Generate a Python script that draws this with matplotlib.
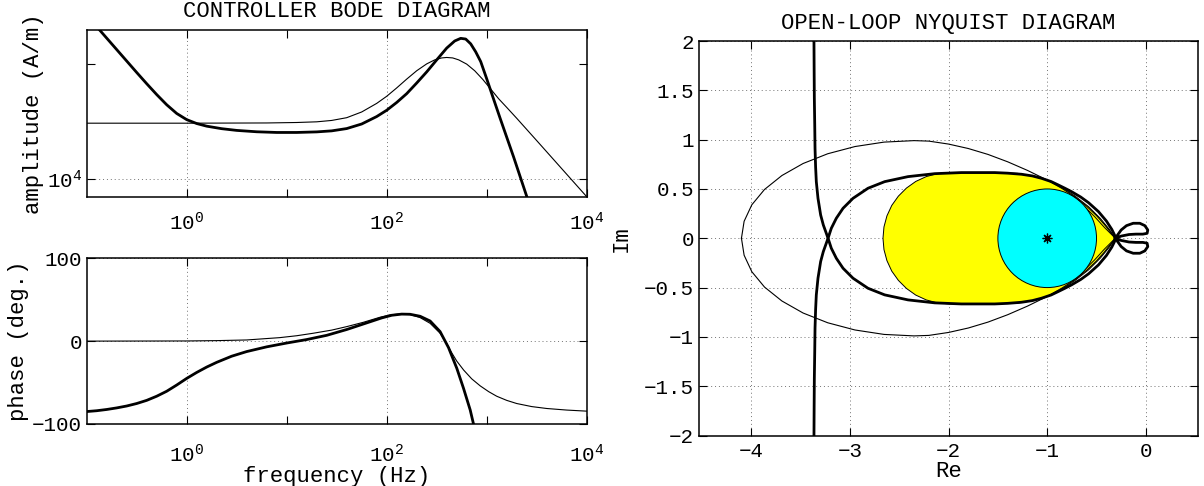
import numpy as np
import matplotlib
matplotlib.use("Agg")
import matplotlib.pyplot as plt
from matplotlib.ticker import FixedLocator, FixedFormatter, NullFormatter
from matplotlib.patches import Polygon, Circle

plt.rcParams['font.family'] = ['Liberation Mono', 'DejaVu Sans Mono']
plt.rcParams['mathtext.fontset'] = 'custom'
plt.rcParams['mathtext.rm'] = 'Liberation Mono'
plt.rcParams['mathtext.it'] = 'Liberation Mono'
plt.rcParams['mathtext.bf'] = 'Liberation Mono'

# ---------------- Bode data (frequency and amplitude in decades) ----------------
thin_amp_fexp = [-1.0, 0.0, 0.8, 1.1, 1.3, 1.45, 1.6, 1.75, 1.9, 2.0, 2.1, 2.2, 2.3,
                 2.4, 2.48, 2.55, 2.6, 2.66, 2.72, 2.8, 2.88, 2.96, 3.04, 3.12, 3.2,
                 3.3, 3.5, 3.75, 4.0]
thin_amp_exp = [4.487, 4.487, 4.489, 4.493, 4.499, 4.511, 4.535, 4.585, 4.660, 4.722,
                4.795, 4.872, 4.945, 5.005, 5.040, 5.057, 5.061, 5.057, 5.040, 5.003,
                4.945, 4.870, 4.785, 4.700, 4.625, 4.530, 4.335, 4.090, 3.845]

thick_amp_fexp = [-1.0, -0.9, -0.8, -0.7, -0.6, -0.5, -0.4, -0.3, -0.2, -0.1, 0.0,
                  0.1, 0.2, 0.35, 0.5, 0.7, 0.9, 1.1, 1.3, 1.45, 1.6, 1.75, 1.9,
                  2.0, 2.1, 2.2, 2.3, 2.4, 2.5, 2.6, 2.68, 2.74, 2.79, 2.84, 2.89,
                  2.94, 3.0, 3.06, 3.135, 3.269, 3.402, 3.47]
thick_amp_exp = [5.43, 5.33, 5.23, 5.13, 5.03, 4.93, 4.832, 4.737, 4.648, 4.572, 4.518,
                 4.484, 4.461, 4.439, 4.424, 4.412, 4.406, 4.406, 4.411, 4.420, 4.440,
                 4.480, 4.545, 4.600, 4.668, 4.745, 4.838, 4.935, 5.040, 5.143, 5.205,
                 5.228, 5.222, 5.180, 5.110, 5.025, 4.875, 4.720, 4.528, 4.192, 3.843,
                 3.670]

# phase in degrees
thin_ph_fexp = [-1.0, 0.0, 0.3, 0.6, 0.93, 1.1, 1.265, 1.45, 1.6, 1.766, 1.933, 2.033,
                2.134, 2.234, 2.334, 2.434, 2.534, 2.60, 2.65, 2.70, 2.77, 2.85, 2.935,
                3.02, 3.10, 3.2, 3.3, 3.45, 3.6, 3.8, 4.0]
thin_ph = [0.0, 0.2, 0.6, 1.4, 4.2, 6.5, 9.5, 13.3, 17.5, 22.7, 28.8, 31.6,
           32.8, 32.0, 28.4, 21.5, 9.5, -3.0, -14.0, -24.0, -35.0, -45.5, -54.0,
           -61.0, -66.5, -71.5, -75.3, -79.0, -81.3, -83.2, -84.5]

thick_ph_fexp = [-1.0, -0.9, -0.8, -0.7, -0.6, -0.5, -0.4, -0.3, -0.2, -0.1, 0.0,
                 0.1, 0.2, 0.3, 0.45, 0.6, 0.8, 1.0, 1.2, 1.4, 1.6, 1.8, 1.95, 2.05,
                 2.15, 2.234, 2.334, 2.434, 2.534, 2.618, 2.701, 2.768, 2.835, 2.868,
                 2.9]
thick_ph = [-85.0, -84.0, -82.5, -80.6, -78.3, -75.3, -71.5, -66.5, -60.5, -53.0,
            -45.0, -37.8, -31.3, -25.6, -18.2, -12.6, -6.9, -2.3, 1.9, 7.0, 14.0,
            22.0, 28.0, 31.2, 32.6, 32.4, 30.0, 24.3, 11.5, -7.8, -32.8, -56.9,
            -83.1, -100.0, -118.0]

# ---------------- Nyquist data (upper halves; lower halves are conjugates) ----------------
thin_re = [-4.100, -4.073, -3.995, -3.866, -3.690, -3.475, -3.225, -2.949, -2.654,
           -2.350, -2.200, -2.000, -1.800, -1.600, -1.400, -1.200, -1.000, -0.850,
           -0.720, -0.600, -0.500, -0.420, -0.365, -0.310]
thin_im = [0.000, 0.172, 0.339, 0.495, 0.636, 0.758, 0.857, 0.930, 0.975,
           0.990, 0.985, 0.955, 0.910, 0.850, 0.775, 0.688, 0.590, 0.505,
           0.420, 0.325, 0.230, 0.140, 0.070, 0.000]

thick_re = [-3.365, -3.363, -3.361, -3.357, -3.354, -3.348, -3.341, -3.324, -3.297,
            -3.270, -3.246, -3.222, -3.189, -3.138, -3.070, -2.969, -2.817, -2.648,
            -2.411, -2.140, -1.870, -1.532, -1.400, -1.261, -1.150, -1.058, -0.960,
            -0.889, -0.820, -0.754, -0.660, -0.580, -0.480, -0.400, -0.345, -0.318,
            -0.310,
            -0.250, -0.196, -0.128, -0.061, -0.010, 0.020, 0.013, -0.030, -0.100,
            -0.170, -0.250, -0.310]
thick_im = [-2.05, -1.70, -1.42, -1.15, -0.91, -0.72, -0.574, -0.405, -0.236,
            -0.135, -0.068, 0.0, 0.101, 0.203, 0.304, 0.405, 0.507, 0.574,
            0.625, 0.655, 0.666, 0.666, 0.660, 0.649, 0.632, 0.608, 0.575,
            0.541, 0.507, 0.473, 0.418, 0.360, 0.270, 0.175, 0.090, 0.035,
            0.0,
            0.084, 0.128, 0.152, 0.152, 0.128, 0.084, 0.050, 0.042, 0.042,
            0.038, 0.022, 0.0]

region_re = [-2.665, -2.655, -2.625, -2.576, -2.509, -2.427, -2.333, -2.227, -2.115,
             -2.000, -1.600, -1.300, -1.150, -1.000, -0.860, -0.720, -0.580, -0.460,
             -0.370, -0.310]
region_im = [0.0, 0.115, 0.227, 0.333, 0.427, 0.509, 0.576, 0.625, 0.655,
             0.665, 0.667, 0.658, 0.632, 0.590, 0.522, 0.430, 0.320, 0.200,
             0.090, 0.0]

region_inner_re = [-0.31, -0.42, -0.52, -0.62]
region_inner_im = [0.0, 0.11, 0.22, 0.32]

critical_point = (-1.0, 0.0)
margin_radius = 0.5

# ---------------- figure ----------------
fig = plt.figure(figsize=(12.04, 4.86), dpi=100)

ax_amp = fig.add_axes([0.0720, 0.5953, 0.4153, 0.3430])
ax_ph = fig.add_axes([0.0720, 0.1276, 0.4153, 0.3410])
ax_ny = fig.add_axes([0.5806, 0.1039, 0.4145, 0.8117])

grid_kw = dict(color='0.45', linestyle=(0, (1, 3)), linewidth=0.7)
TICK_FS = 15
LABEL_FS = 16
THIN = 0.8
THICK = 2.0


def style_axes(ax, xpad=3.5):
    ax.tick_params(which='both', direction='in', top=True, right=True,
                   labelsize=TICK_FS, width=0.8, color='black', length=6)
    ax.tick_params(axis='x', which='both', pad=xpad)
    for s in ax.spines.values():
        s.set_linewidth(1.1)
        s.set_color('black')


def decade_labels(exps):
    return [r'$\mathregular{10^{%d}}$' % e for e in exps]


def dec(values):
    return 10.0 ** np.asarray(values)


# amplitude
ax_amp.plot(dec(thin_amp_fexp), dec(thin_amp_exp), color='black', lw=THIN)
ax_amp.plot(dec(thick_amp_fexp), dec(thick_amp_exp), color='black', lw=THICK)
ax_amp.set_xscale('log')
ax_amp.set_yscale('log')
ax_amp.set_xlim(0.1, 1e4)
ax_amp.set_ylim(7.0e3, 2.0e5)
ax_amp.xaxis.set_major_locator(FixedLocator([1e0, 1e2, 1e4]))
ax_amp.xaxis.set_major_formatter(FixedFormatter(decade_labels([0, 2, 4])))
ax_amp.xaxis.set_minor_locator(FixedLocator([1e1, 1e3]))
ax_amp.xaxis.set_minor_formatter(NullFormatter())
ax_amp.yaxis.set_major_locator(FixedLocator([1e4]))
ax_amp.yaxis.set_major_formatter(FixedFormatter(decade_labels([4])))
ax_amp.yaxis.set_minor_locator(FixedLocator([1e5]))
ax_amp.yaxis.set_minor_formatter(NullFormatter())
ax_amp.grid(True, which='major', **grid_kw)
style_axes(ax_amp, xpad=11)
ax_amp.set_ylabel('amplitude (A/m)', fontsize=LABEL_FS, labelpad=2)
ax_amp.set_title('CONTROLLER BODE DIAGRAM', fontsize=LABEL_FS, pad=9)

# phase
ax_ph.plot(dec(thin_ph_fexp), thin_ph, color='black', lw=THIN)
ax_ph.plot(dec(thick_ph_fexp), thick_ph, color='black', lw=THICK)
ax_ph.set_xscale('log')
ax_ph.set_xlim(0.1, 1e4)
ax_ph.set_ylim(-100, 100)
ax_ph.xaxis.set_major_locator(FixedLocator([1e0, 1e2, 1e4]))
ax_ph.xaxis.set_major_formatter(FixedFormatter(decade_labels([0, 2, 4])))
ax_ph.xaxis.set_minor_locator(FixedLocator([1e1, 1e3]))
ax_ph.xaxis.set_minor_formatter(NullFormatter())
ax_ph.yaxis.set_major_locator(FixedLocator([-100, 0, 100]))
ax_ph.yaxis.set_major_formatter(FixedFormatter(['\u2212100', '0', '100']))
ax_ph.grid(True, which='major', **grid_kw)
style_axes(ax_ph, xpad=14)
ax_ph.set_ylabel('phase (deg.)', fontsize=LABEL_FS, labelpad=2)
ax_ph.set_xlabel('frequency (Hz)', fontsize=LABEL_FS, labelpad=0)

# Nyquist
t_re = np.asarray(thin_re)
t_im = np.asarray(thin_im)
ax_ny.plot(np.concatenate([t_re, t_re[::-1]]),
           np.concatenate([t_im, -t_im[::-1]]), color='black', lw=THIN, zorder=4)

k_re = np.asarray(thick_re)
k_im = np.asarray(thick_im)
ax_ny.plot(k_re, k_im, color='black', lw=THICK, zorder=5)
ax_ny.plot(k_re, -k_im, color='black', lw=THICK, zorder=5)

r_re = np.asarray(region_re)
r_im = np.asarray(region_im)
region_xy = np.column_stack([np.concatenate([r_re, r_re[::-1]]),
                             np.concatenate([r_im, -r_im[::-1]])])
ax_ny.add_patch(Polygon(region_xy, closed=True, facecolor=(1, 1, 0),
                        edgecolor='black', linewidth=0.7, zorder=2))
ri_re = np.asarray(region_inner_re)
ri_im = np.asarray(region_inner_im)
ax_ny.plot(ri_re, ri_im, color='black', lw=0.7, zorder=2.5)
ax_ny.plot(ri_re, -ri_im, color='black', lw=0.7, zorder=2.5)

ax_ny.add_patch(Circle(critical_point, margin_radius, facecolor=(0, 1, 1),
                       edgecolor='black', linewidth=0.7, zorder=3))
ax_ny.plot([critical_point[0]], [critical_point[1]], marker=(8, 2, 0), color='black',
           markersize=7, markeredgewidth=0.9, linestyle='none', zorder=6)

ax_ny.set_xlim(-4.53, 0.53)
ax_ny.set_ylim(-2, 2)
ax_ny.xaxis.set_major_locator(FixedLocator([-4, -3, -2, -1, 0]))
ax_ny.xaxis.set_major_formatter(FixedFormatter(['\u22124', '\u22123', '\u22122', '\u22121', '0']))
ny_yticks = [-2, -1.5, -1, -0.5, 0, 0.5, 1, 1.5, 2]
ny_ylabels = ['\u22122', '\u22121.5', '\u22121', '\u22120.5', '0', '0.5', '1', '1.5', '2']
ax_ny.yaxis.set_major_locator(FixedLocator(ny_yticks))
ax_ny.yaxis.set_major_formatter(FixedFormatter(ny_ylabels))
ax_ny.grid(True, which='major', **grid_kw)
ax_ny.set_axisbelow(True)
style_axes(ax_ny, xpad=5)
ax_ny.set_xlabel('Re', fontsize=LABEL_FS, labelpad=0)
ax_ny.set_ylabel('Im', fontsize=LABEL_FS, labelpad=9)
ax_ny.set_title('OPEN-LOOP NYQUIST DIAGRAM', fontsize=LABEL_FS, pad=9)

fig.savefig('out.png', dpi=100)
